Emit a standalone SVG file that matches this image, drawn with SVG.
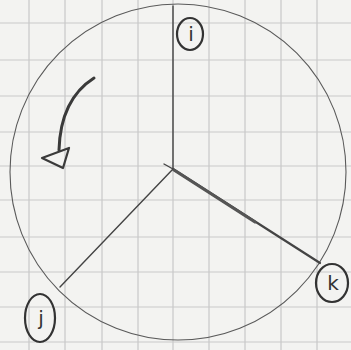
<svg xmlns="http://www.w3.org/2000/svg" width="351" height="350" viewBox="0 0 351 350">
<defs>
<style>
.grid{stroke:#c9c9c9;stroke-width:1.2}
.edge{stroke:#444;stroke-width:1.4;fill:none;stroke-linecap:round}
.node ellipse{fill:none;stroke:#333;stroke-width:2.2}
.node text{font-family:"DejaVu Sans",sans-serif;font-size:20px;fill:#333;text-anchor:middle}
</style>
</defs>
<rect width="351" height="350" fill="#f3f3f1"/>
<g id="grid">
<path class="grid" d="M29 0V350M65 0V350M102 0V350M138 0V350M173 0V350M209 0V350M245 0V350M281 0V350M317 0V350M0 23H351M0 60H351M0 96H351M0 132H351M0 166H351M0 200H351M0 237H351M0 272H351M0 307H351M0 342H351"/>
</g>
<circle id="outline" cx="178" cy="172" r="168" fill="none" stroke="#5a5a5a" stroke-width="1.1"/>
<g id="connectors">
<line class="edge" x1="173" y1="169" x2="173" y2="6"/>
<line class="edge" x1="173" y1="169" x2="60" y2="287"/>
<line class="edge" x1="173" y1="169" x2="320" y2="263" style="stroke-width:2.2"/>
<line class="edge" x1="174" y1="170" x2="255" y2="222" style="stroke-width:3.2;stroke:#555"/>
<line class="edge" x1="164" y1="164" x2="173" y2="169"/>
</g>
<g id="rotation">
<path d="M94 78C72 92 60 116 59 150" fill="none" stroke="#3a3a3a" stroke-width="3" stroke-linecap="round"/>
<path d="M42 158L69 148L63 168Z" fill="none" stroke="#3a3a3a" stroke-width="2.2" stroke-linejoin="round"/>
</g>
<g id="node-i" class="node">
<ellipse cx="190" cy="34" rx="13" ry="16"/>
<text x="191" y="41">i</text>
</g>
<g id="node-j" class="node">
<ellipse cx="40" cy="318" rx="15" ry="24"/>
<text x="41" y="325">j</text>
</g>
<g id="node-k" class="node">
<ellipse cx="332" cy="283" rx="16" ry="19"/>
<text x="333" y="290">k</text>
</g>
</svg>
